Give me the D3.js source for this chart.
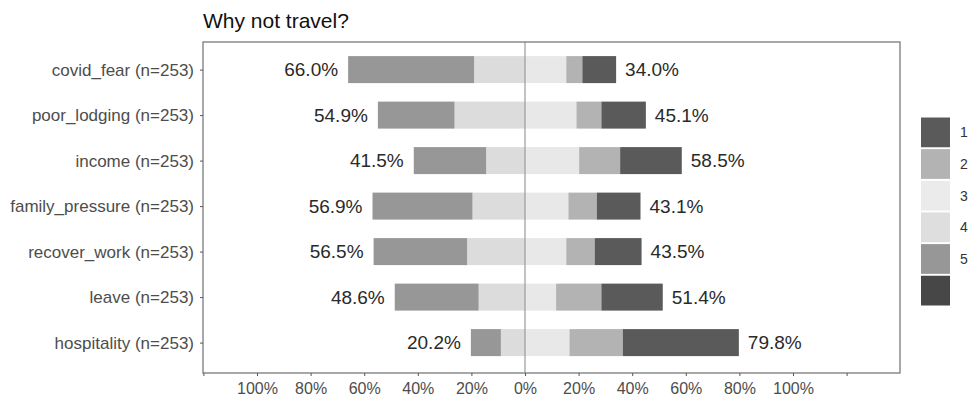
<!DOCTYPE html>
<html>
<head>
<meta charset="utf-8">
<script src="https://cdn.jsdelivr.net/npm/d3@7"></script>
<style>
  body { margin: 0; background: #fff; }
  svg { display: block; }
</style>
</head>
<body>
<svg></svg>
<script>
// diverging likert bars, 5 answer levels

const WIDTH = 971;
const HEIGHT = 398;
const PANEL_LEFT = 203;
const PANEL_RIGHT = 900;
const PANEL_TOP = 42;
const PANEL_BOTTOM = 373;
const BAR_HEIGHT = 27;

const categories = ['covid_fear', 'poor_lodging', 'income', 'family_pressure', 'recover_work', 'leave', 'hospitality'];
const nResp = [253, 253, 253, 253, 253, 253, 253];

// percentages per answer level
const level1 = [12.6, 16.6, 23.0, 16.3, 17.5, 22.9, 43.3];
const level2 = [6.0, 9.3, 15.3, 10.6, 10.6, 16.9, 19.9];
const level3 = [15.4, 19.2, 20.2, 16.2, 15.4, 11.6, 16.6];
const level4 = [19.0, 26.3, 14.5, 19.6, 21.6, 17.3, 9.0];
const level5 = [47.0, 28.6, 27.0, 37.3, 34.9, 31.3, 11.2];

const xTicks = [-120, -100, -80, -60, -40, -20, 0, 20, 40, 60, 80, 100, 120];
const legendLabels = ['1', '2', '3', '4', '5', ''];
const legendColors = ['#5a5a5a', '#b3b3b3', '#ebebeb', '#dedede', '#979797', '#474747'];

const FONT = '"Liberation Sans", Arial, sans-serif';

const svg = d3.select('svg').
attr('width', WIDTH).
attr('height', HEIGHT).
attr('font-family', FONT);

const x = d3.scaleLinear().
domain([-120, 120]).
range([203.4, 846.6]);

const y = d3.scalePoint().
domain(categories).
range([69.6, 342.6]);

// title
svg.append('text').
attr('x', PANEL_LEFT).
attr('y', 28).
attr('font-size', '21px').
attr('fill', '#111').
text('Why not travel?');

// segments: right side 3,2,1 outward, left side 4,5 outward
const segs = [];
categories.forEach((c, i) => {
  let r = 0;
  [[level3, '#e8e8e8'], [level2, '#b3b3b3'], [level1, '#5a5a5a']].forEach(([arr, col]) => {
    segs.push({ cat: c, x0: r, x1: r + arr[i], color: col });
    r += arr[i];
  });
  let l = 0;
  [[level4, '#dcdcdc'], [level5, '#979797']].forEach(([arr, col]) => {
    segs.push({ cat: c, x0: l - arr[i], x1: l, color: col });
    l -= arr[i];
  });
});

svg.append('g').
selectAll('rect').
data(segs).
enter().
append('rect').
attr('x', d => x(d.x0)).
attr('width', d => x(d.x1) - x(d.x0)).
attr('y', d => y(d.cat) - BAR_HEIGHT / 2).
attr('height', BAR_HEIGHT).
attr('fill', d => d.color);

// centre line
svg.append('line').
attr('x1', x(0)).
attr('x2', x(0)).
attr('y1', PANEL_TOP).
attr('y2', PANEL_BOTTOM).
attr('stroke', '#9a9a9a').
attr('stroke-width', 1.2);

// percent labels
const lowPct = categories.map((c, i) => level4[i] + level5[i]);
const highPct = categories.map((c, i) => level1[i] + level2[i] + level3[i]);

svg.append('g').
selectAll('text').
data(categories).
enter().
append('text').
attr('x', (d, i) => x(-lowPct[i]) - 10).
attr('y', d => y(d)).
attr('dy', '0.36em').
attr('text-anchor', 'end').
attr('font-size', '19px').
attr('fill', '#2a2a2a').
text((d, i) => lowPct[i].toFixed(1) + '%');

svg.append('g').
selectAll('text').
data(categories).
enter().
append('text').
attr('x', (d, i) => x(highPct[i]) + 9).
attr('y', d => y(d)).
attr('dy', '0.36em').
attr('font-size', '19px').
attr('fill', '#2a2a2a').
text((d, i) => highPct[i].toFixed(1) + '%');

// panel border
svg.append('rect').
attr('x', PANEL_LEFT).
attr('y', PANEL_TOP).
attr('width', PANEL_RIGHT - PANEL_LEFT).
attr('height', PANEL_BOTTOM - PANEL_TOP).
attr('fill', 'none').
attr('stroke', '#7a7a7a').
attr('stroke-width', 1.3);

// y axis
const yAxis = d3.axisLeft(y).
tickSize(3).
tickPadding(6).
tickFormat((d, i) => `${d} (n=${nResp[i]})`);

const yG = svg.append('g').
attr('transform', `translate(${PANEL_LEFT}, 0)`).
call(yAxis);
yG.select('.domain').remove();
yG.selectAll('line').attr('stroke', '#555');
yG.selectAll('text').
attr('font-size', '17px').
attr('font-family', FONT).
attr('fill', '#4d4d4d');

// x axis
const xAxis = d3.axisBottom(x).
tickValues(xTicks).
tickSize(3).
tickPadding(7).
tickFormat(d => Math.abs(d) > 100 ? '' : Math.abs(d) + '%');

const xG = svg.append('g').
attr('transform', `translate(0, ${PANEL_BOTTOM})`).
call(xAxis);
xG.select('.domain').remove();
xG.selectAll('line').attr('stroke', '#555');
xG.selectAll('text').
attr('font-size', '16px').
attr('font-family', FONT).
attr('fill', '#4d4d4d');

// legend
const legendY = d3.scaleBand().
domain(d3.range(legendColors.length)).
range([117.5, 305.5]).
paddingInner(0.06);

const legendG = svg.append('g');

legendG.selectAll('rect').
data(legendColors).
enter().
append('rect').
attr('x', 921).
attr('y', (d, i) => legendY(i)).
attr('width', 29).
attr('height', legendY.bandwidth()).
attr('fill', d => d);

legendG.selectAll('text').
data(legendLabels).
enter().
append('text').
attr('x', 960).
attr('y', (d, i) => legendY(i) + legendY.bandwidth() / 2).
attr('dy', '0.36em').
attr('font-size', '14px').
attr('fill', '#333').
text(d => d);
</script>
</body>
</html>
